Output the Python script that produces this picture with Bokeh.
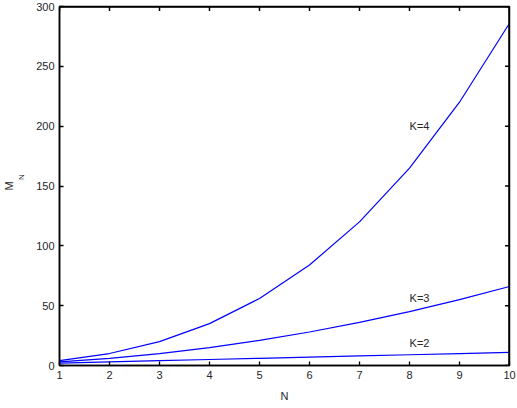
from bokeh.plotting import figure
from bokeh.models import Range1d, FixedTicker, Title
from bokeh.embed import file_html
from bokeh.resources import INLINE
import math

N = [1, 2, 3, 4, 5, 6, 7, 8, 9, 10]
K2 = [2, 3, 4, 5, 6, 7, 8, 9, 10, 11]
K3 = [3, 6, 10, 15, 21, 28, 36, 45, 55, 66]
K4 = [4, 10, 20, 35, 56, 84, 120, 165, 220, 286]
curve_labels = ["K=2", "K=3", "K=4"]
label_x = [8.2, 8.2, 8.2]
label_y = [19, 56, 200.5]
x_ticks = [1, 2, 3, 4, 5, 6, 7, 8, 9, 10]
y_ticks = [0, 50, 100, 150, 200, 250, 300]
x_lim = (1, 10)
y_lim = (0, 300)

TXT = "#262626"

p = figure(width=517, height=408, output_backend="svg", toolbar_location=None,
           x_range=Range1d(*x_lim), y_range=Range1d(*y_lim),
           min_border_left=53, min_border_right=8, min_border_top=6, min_border_bottom=43)
p.outline_line_color = "black"
p.outline_line_width = 1.5
p.grid.visible = False

for ax in (p.xaxis[0], p.yaxis[0]):
    ax.major_tick_in = 4
    ax.major_tick_out = 0
    ax.minor_tick_in = 0
    ax.minor_tick_out = 0
    ax.axis_line_color = "black"
    ax.axis_line_width = 1.5
    ax.major_tick_line_color = "black"
    ax.major_tick_line_width = 1.3
    ax.major_label_text_font_size = "11px"
    ax.major_label_text_color = TXT
    ax.major_label_standoff = 5
p.xaxis[0].ticker = FixedTicker(ticks=x_ticks)
p.yaxis[0].ticker = FixedTicker(ticks=y_ticks)
p.xaxis[0].axis_label = "N"
p.xaxis[0].axis_label_text_font_size = "11px"
p.xaxis[0].axis_label_text_font_style = "normal"
p.xaxis[0].axis_label_text_color = TXT
p.xaxis[0].axis_label_standoff = 8

# y-axis label "M_N": subscript N as the axis label, M as an outer left title
NB = "\u00a0"
yax = p.yaxis[0]
yax.axis_label = NB * 8 + "N"
yax.axis_label_text_font_size = "8px"
yax.axis_label_text_font_style = "normal"
yax.axis_label_text_color = TXT
yax.axis_label_standoff = 7
p.add_layout(Title(text="M", align="center", text_font_size="11px",
                   text_font_style="normal", text_color=TXT, standoff=0), "left")

# curves
for ys in (K2, K3, K4):
    p.line(N, ys, line_color="#0000ff", line_width=1.2)

# box: top and right edges drawn as line glyphs along the range limits
p.line([x_lim[0], x_lim[1]], [y_lim[1], y_lim[1]], line_color="black", line_width=2.5)
p.line([x_lim[1], x_lim[1]], [y_lim[0], y_lim[1]], line_color="black", line_width=2.5)

# inward ticks on top and right edges (markers centred on the edge, half clipped)
p.scatter(x_ticks, [y_lim[1]] * len(x_ticks), marker="dash", angle=math.pi / 2,
          size=9, line_color="black", line_width=1.5)
p.scatter([x_lim[1]] * len(y_ticks), y_ticks, marker="dash",
          size=9, line_color="black", line_width=1.5)

p.text(x=label_x, y=label_y, text=curve_labels, text_font_size="11px",
       text_color=TXT, text_align="center", text_baseline="middle")

open("out.html", "w").write(file_html(p, INLINE))
